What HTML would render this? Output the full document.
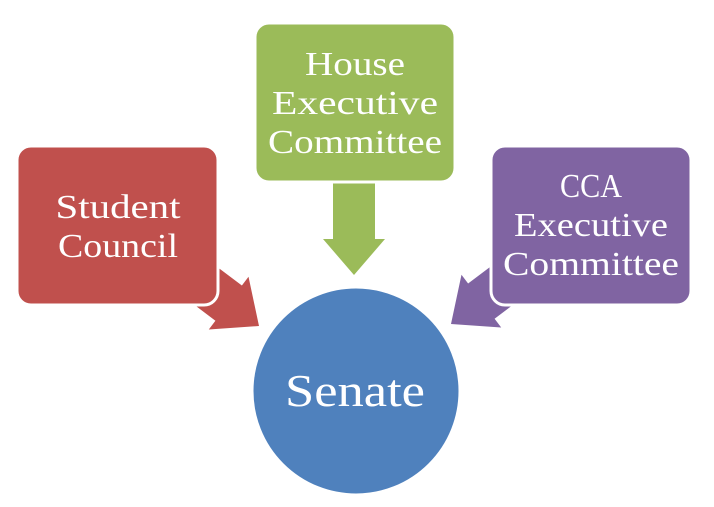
<!DOCTYPE html>
<html><head><style>
html,body{margin:0;padding:0;background:#fff;width:714px;height:507px;overflow:hidden}
text{font-family:"Liberation Serif","DejaVu Serif",serif;fill:#fff;text-anchor:middle}
</style></head><body>
<svg width="714" height="507" viewBox="0 0 714 507" xmlns="http://www.w3.org/2000/svg">
<g>
<polygon transform="translate(259,326) rotate(37)" fill="#c0504d" points="0,0 -38,-33 -38,-22 -85,-22 -85,22 -38,22 -38,33"/>
<polygon transform="translate(354,275) rotate(90)" fill="#9bbb59" points="0,0 -36,-31 -36,-21 -95,-21 -95,21 -36,21 -36,31"/>
<polygon transform="translate(451,324) rotate(143)" fill="#8064a2" points="0,0 -38,-33 -38,-22 -85,-22 -85,22 -38,22 -38,33"/>
</g>
<rect x="17" y="146" width="201" height="159" rx="14" fill="#c0504d" stroke="#fff" stroke-width="3"/>
<rect x="255" y="23" width="200" height="159" rx="14" fill="#9bbb59" stroke="#fff" stroke-width="3"/>
<rect x="491" y="146" width="200" height="159" rx="14" fill="#8064a2" stroke="#fff" stroke-width="3"/>
<circle cx="356" cy="391" r="104" fill="#4f81bd" stroke="#fff" stroke-width="3"/>
<text font-size="34" x="118" y="218" textLength="125" lengthAdjust="spacingAndGlyphs">Student</text>
<text font-size="34" x="118" y="257" textLength="120" lengthAdjust="spacingAndGlyphs">Council</text>
<text font-size="34" x="355" y="75" textLength="100" lengthAdjust="spacingAndGlyphs">House</text>
<text font-size="34" x="355" y="114" textLength="166" lengthAdjust="spacingAndGlyphs">Executive</text>
<text font-size="34" x="355" y="153" textLength="174" lengthAdjust="spacingAndGlyphs">Committee</text>
<text font-size="34" x="591" y="197" textLength="62" lengthAdjust="spacingAndGlyphs">CCA</text>
<text font-size="34" x="591" y="236" textLength="154" lengthAdjust="spacingAndGlyphs">Executive</text>
<text font-size="34" x="591" y="275" textLength="176" lengthAdjust="spacingAndGlyphs">Committee</text>
<text font-size="46" x="355" y="406" textLength="140" lengthAdjust="spacingAndGlyphs">Senate</text>
</svg>
</body></html>
